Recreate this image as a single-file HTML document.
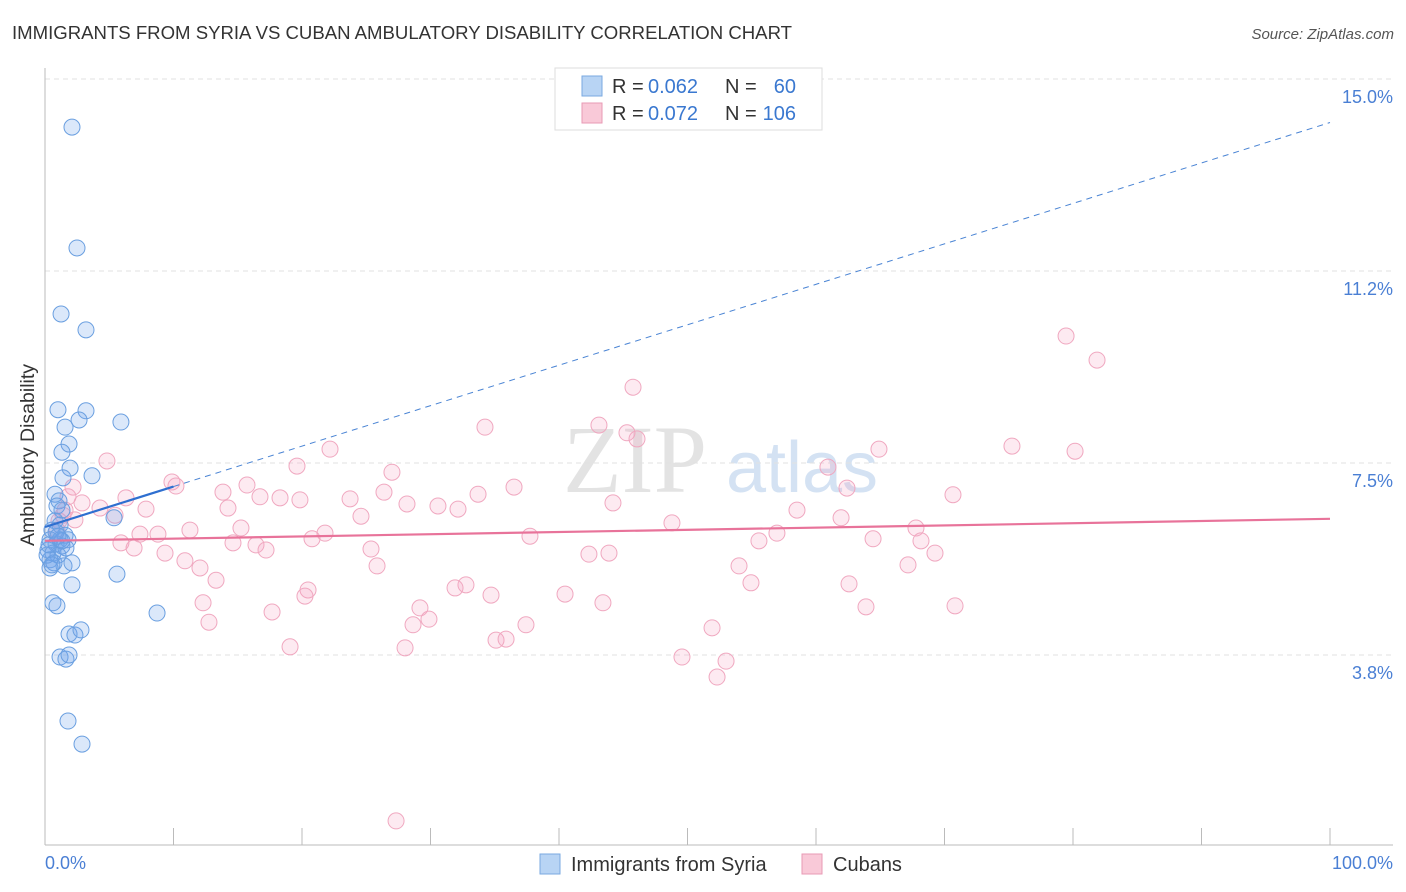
<!DOCTYPE html>
<html><head><meta charset="utf-8"><style>
body{margin:0;background:#fff;font-family:"Liberation Sans",sans-serif;}
svg{display:block}
</style></head><body>
<svg width="1406" height="892" viewBox="0 0 1406 892">
<text x="12" y="39" font-size="18.6" fill="#333" textLength="780">IMMIGRANTS FROM SYRIA VS CUBAN AMBULATORY DISABILITY CORRELATION CHART</text>
<text x="1394" y="39" font-size="15" fill="#555" font-style="italic" text-anchor="end">Source: ZipAtlas.com</text>
<g>
<text x="635" y="492" font-size="96" font-family="Liberation Serif,serif" fill="#d8d8d8" text-anchor="middle" opacity="0.7">ZIP</text>
<text x="802" y="492" font-size="72" fill="#b8d0ec" text-anchor="middle" opacity="0.6">atlas</text>
</g>
<g id="grid"></g>
<line x1="45" y1="68" x2="45" y2="845" stroke="#bbb"/>
<line x1="45" y1="845" x2="1393" y2="845" stroke="#bbb"/>
<g id="ticks"></g>
<text x="34" y="455" font-size="19.5" fill="#333" text-anchor="middle" transform="rotate(-90 34 455)">Ambulatory Disability</text>
<text x="45" y="869" font-size="18" fill="#4a7fd4">0.0%</text>
<text x="1393" y="869" font-size="18" fill="#4a7fd4" text-anchor="end">100.0%</text>
<g id="pts"></g>
<g id="trends"></g>
<g>
<rect x="555" y="68" width="267" height="62" fill="#fff" stroke="#ddd"/>
<rect x="582" y="76" width="20" height="20" fill="#b8d4f4" stroke="#7aa9e0"/>
<rect x="582" y="103" width="20" height="20" fill="#f9c9d8" stroke="#e89ab5"/>
<text x="612" y="93" font-size="20" fill="#333">R = </text><text x="648" y="93" font-size="20" fill="#3a78d0">0.062</text>
<text x="725" y="93" font-size="20" fill="#333">N =</text><text x="796" y="93" font-size="20" fill="#3a78d0" text-anchor="end">60</text>
<text x="612" y="120" font-size="20" fill="#333">R = </text><text x="648" y="120" font-size="20" fill="#3a78d0">0.072</text>
<text x="725" y="120" font-size="20" fill="#333">N =</text><text x="796" y="120" font-size="20" fill="#3a78d0" text-anchor="end">106</text>
</g>
<g>
<rect x="540" y="854" width="20" height="20" fill="#b8d4f4" stroke="#7aa9e0"/>
<text x="571" y="871" font-size="20" fill="#333">Immigrants from Syria</text>
<rect x="802" y="854" width="20" height="20" fill="#f9c9d8" stroke="#e89ab5"/>
<text x="833" y="871" font-size="20" fill="#333">Cubans</text>
</g>
</svg>
<script>
const yTicks=[3.75,7.5,11.25,15];
const yTickLabels=["3.8%","7.5%","11.2%","15.0%"];
const xTicks=[0,10,20,30,40,50,60,70,80,90,100];
const syriaX=[2.1,2.49,1.25,3.19,1.01,3.19,5.91,1.56,2.65,1.87,1.32,1.95,3.66,1.40,0.78,1.09,0.93,1.32,5.37,0.78,1.17,0.54,1.56,1.79,0.39,0.86,1.32,0.23,0.62,1.01,0.39,0.70,1.48,2.10,0.39,5.60,2.10,0.62,0.93,8.72,1.87,2.33,2.80,1.17,1.63,1.87,1.79,2.88,1.17,0.16,0.54,0.86,1.63,0.31,1.32,1.01];
const syriaY=[14.06,11.70,10.41,10.10,8.54,8.52,8.30,8.20,8.34,7.87,7.71,7.40,7.25,7.21,6.89,6.76,6.66,6.58,6.43,6.37,6.29,6.19,6.09,6.00,6.00,5.92,5.88,5.80,5.74,5.70,5.61,5.55,5.49,5.55,5.45,5.33,5.12,4.77,4.71,4.57,4.16,4.14,4.24,3.71,3.67,3.75,2.46,2.01,6.0,5.70,5.51,6.15,5.84,5.90,5.98,6.07];
const cubaX=[79.46,81.87,45.76,34.24,43.11,45.29,46.07,22.18,64.90,75.25,80.16,4.82,19.61,60.93,27.00,9.88,10.19,15.72,2.18,36.50,13.85,62.41,33.70,70.66,6.30,16.73,18.29,19.84,23.74,26.38,1.79,2.88,28.17,44.20,4.28,7.86,30.58,32.14,14.24,24.59,58.52,61.95,48.79,15.25,11.28,21.79,7.39,8.79,67.78,1.09,1.56,5.45,37.74,20.78,5.91,14.63,16.42,56.96,55.56,64.44,68.17,6.93,9.34,17.20,25.37,42.33,43.89,69.26,10.89,12.06,25.84,54.01,67.16,13.31,54.94,62.57,32.76,31.91,20.47,34.71,40.47,20.23,12.30,43.42,70.82,63.89,17.67,29.18,29.88,12.76,28.64,37.43,51.91,35.10,35.88,19.07,28.02,49.57,53.00,52.30,27.32,0.93,1.40,2.33];
const cubaY=[9.98,9.51,8.98,8.20,8.24,8.09,7.97,7.77,7.77,7.83,7.73,7.54,7.44,7.42,7.32,7.13,7.05,7.07,7.03,7.03,6.93,7.01,6.89,6.88,6.82,6.84,6.82,6.78,6.80,6.93,6.84,6.72,6.70,6.72,6.62,6.60,6.66,6.60,6.62,6.46,6.58,6.43,6.33,6.23,6.19,6.13,6.11,6.11,6.23,6.37,6.58,6.48,6.07,6.02,5.94,5.94,5.90,6.13,5.98,6.02,5.98,5.84,5.74,5.80,5.82,5.72,5.74,5.74,5.59,5.45,5.49,5.49,5.51,5.21,5.16,5.14,5.12,5.06,5.02,4.92,4.94,4.90,4.77,4.77,4.71,4.69,4.59,4.67,4.45,4.39,4.34,4.34,4.28,4.04,4.06,3.91,3.89,3.71,3.63,3.32,0.51,6.19,6.48,6.39];
const syriaTrend=[6.25,0.079];
const cubaTrend=[5.98,0.0043];
const syriaSolidEnd=10;
const NS="http://www.w3.org/2000/svg";
const xs=v=>45+v*12.85;
const ys=v=>847-v*51.2;
function mk(tag,attrs,parent){const e=document.createElementNS(NS,tag);for(const k in attrs)e.setAttribute(k,attrs[k]);parent.appendChild(e);return e;}
const grid=document.getElementById('grid'),ticks=document.getElementById('ticks'),pts=document.getElementById('pts'),tr=document.getElementById('trends');
yTicks.forEach((t,i)=>{
 const l=mk('line',{x1:45,x2:1393,y1:ys(t),y2:ys(t),stroke:'#e2e2e2','stroke-dasharray':'5,4'},grid);
 
 
 const tx=mk('text',{x:1393,y:ys(t)+24,'font-size':18,fill:'#4a7fd4','text-anchor':'end'},grid);
 tx.textContent=yTickLabels[i];
 
 
});
xTicks.forEach(t=>{
 const l=mk('line',{x1:xs(t),x2:xs(t),y1:828,y2:845,stroke:'#bbb'},ticks);
 
 
});
cubaX.forEach((x,i)=>{
 const c=mk('circle',{cx:xs(x),cy:ys(cubaY[i]),r:8,fill:'rgba(244,160,190,0.22)',stroke:'#f0a8c0','stroke-width':1},pts);
 
 
});
syriaX.forEach((x,i)=>{
 const c=mk('circle',{cx:xs(x),cy:ys(syriaY[i]),r:8,fill:'rgba(110,165,235,0.25)',stroke:'#6a9fe0','stroke-width':1},pts);
 
 
});
const ct=mk('line',{x1:xs(0),y1:ys(cubaTrend[0]),x2:xs(100),y2:ys(cubaTrend[0]+cubaTrend[1]*100),stroke:'#e8739a','stroke-width':2.2},tr);


const sd=mk('line',{x1:xs(syriaSolidEnd),y1:ys(syriaTrend[0]+syriaTrend[1]*syriaSolidEnd),x2:xs(100),y2:ys(syriaTrend[0]+syriaTrend[1]*100),stroke:'#4a84d4','stroke-width':1,'stroke-dasharray':'6,5'},tr);


const ss=mk('line',{x1:xs(0),y1:ys(syriaTrend[0]),x2:xs(syriaSolidEnd),y2:ys(syriaTrend[0]+syriaTrend[1]*syriaSolidEnd),stroke:'#2e6fd0','stroke-width':2.2},tr);


</script>
</body></html>
